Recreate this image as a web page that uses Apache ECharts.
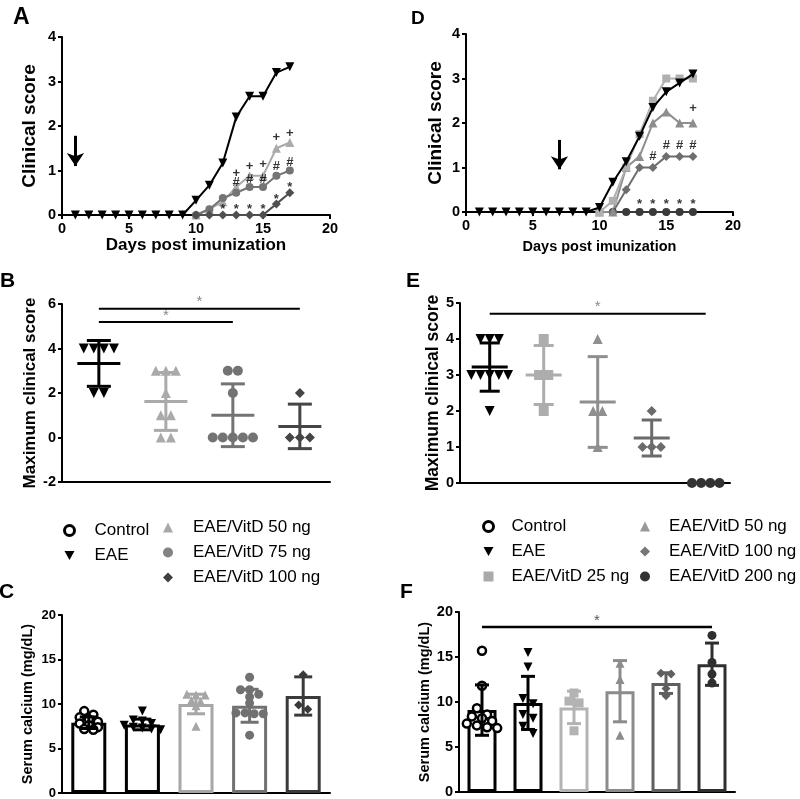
<!DOCTYPE html>
<html><head><meta charset="utf-8">
<script src="https://cdn.jsdelivr.net/npm/echarts@6/dist/echarts.min.js"></script>
<style>html,body{margin:0;padding:0;background:#fff}#c{width:800px;height:799px}</style>
</head><body><div id="c"></div><script>
// ---------------- DATA ----------------
const days = [1,2,3,4,5,6,7,8,9,10,11,12,13,14,15,16,17];
const daysLate = [10,11,12,13,14,15,16,17];
// Panel A clinical scores
const scoreA_EAE = [0,0,0,0,0,0,0,0,0,0.33,0.67,1.17,2.2,2.67,2.67,3.2,3.33];
const scoreA_50  = [0,0.13,0.3,0.63,0.88,0.88,1.5,1.63];
const scoreA_75  = [0,0.13,0.38,0.5,0.63,0.63,0.88,1.0];
const scoreA_100 = [0,0,0,0,0,0,0.25,0.5];
const marksA = [[13,0.94,'+'],[14,1.09,'+'],[15,1.14,'+'],[16,1.74,'+'],[17,1.84,'+'],
                [13,0.73,'#'],[14,0.8,'#'],[15,0.8,'#'],[16,1.09,'#'],[17,1.18,'#'],
                [12,0.12,'*'],[13,0.12,'*'],[14,0.12,'*'],[15,0.12,'*'],[16,0.36,'*'],[17,0.62,'*']];
const arrowA = [1, 1.78, 1.1];
// Panel D clinical scores
const scoreD_EAE = [0,0,0,0,0,0,0,0,0,0.1,0.67,1.13,1.7,2.35,2.7,2.9,3.1];
const scoreD_25  = [0,0.25,1.0,1.75,2.5,3.0,3.0,3.0];
const scoreD_50  = [0,0,1.0,1.25,2.0,2.25,2.0,2.0];
const scoreD_100 = [0,0,0.5,1.0,1.0,1.25,1.25,1.25];
const scoreD_200 = [0,0,0,0,0,0,0,0];
const marksD = [[17,2.32,'+'],[14,1.25,'#'],[15,1.5,'#'],[16,1.5,'#'],[17,1.5,'#'],
                [13,0.18,'*'],[14,0.18,'*'],[15,0.18,'*'],[16,0.18,'*'],[17,0.18,'*']];
const arrowD = [7, 1.62, 0.96];
// Panel B maximum clinical score
const groupsB = ['EAE','EAE/VitD 50 ng','EAE/VitD 75 ng','EAE/VitD 100 ng'];
const maxScoreB = [[4,4,4,4,2,2],[3,3,3,2,1,1,0,0],[3,3,2,0,0,0,0,0],[2,0,0,0]];
const meanB = [3.33,1.62,1.0,0.5];
const sdB = [1.03,1.30,1.41,1.0];
const sigB = [[1,4,5.79],[1,3,5.19]];
// Panel E maximum clinical score
const groupsE = ['EAE','EAE/VitD 25 ng','EAE/VitD 50 ng','EAE/VitD 100 ng','EAE/VitD 200 ng'];
const maxScoreE = [[4,4,4,3,3,3,3,3,2],[4,3,3,2],[4,2,2,1],[2,1,1,1],[0,0,0,0]];
const meanE = [3.22,3.0,2.25,1.25,0];
const sdE = [0.67,0.82,1.26,0.5,0];
const sigE = [[1,5,4.70]];
// Panel C serum calcium
const groupsC = ['Control','EAE','EAE/VitD 50 ng','EAE/VitD 75 ng','EAE/VitD 100 ng'];
const calciumC = [[9.2,8.8,8.5,8.3,8.0,7.8,7.6,7.4,7.2,7.1],[9.2,8.2,8.1,7.8,7.6,7.4,7.3,7.2,7.1],
                  [11.1,11.0,11.0,10.4,10.3,9.8,7.5],[13.0,11.6,11.6,11.1,10.8,10.1,9.0,9.0,8.9,8.9,6.5],[13.3,9.9,9.4]];
const meanC = [7.9,7.7,10.0,9.8,10.9];
const sdC = [0.65,0.6,1.1,1.85,2.15];
// Panel F serum calcium
const groupsF = ['Control','EAE','EAE/VitD 25 ng','EAE/VitD 50 ng','EAE/VitD 100 ng','EAE/VitD 200 ng'];
const calciumF = [[15.7,11.8,9.3,8.6,8.4,8.2,7.9,7.6,7.4,7.2,7.1],[15.5,13.9,10.4,9.8,8.6,8.2,7.3,6.5],
                  [11.0,10.1,9.9,6.8],[14.3,12.5,6.3],[13.2,13.1,11.5,10.7],[17.4,14.4,13.1,12.1]];
const meanF = [9.1,9.9,9.4,11.2,12.1,14.2];
const sdF = [2.8,2.95,1.8,3.4,1.15,2.35];
const sigF = [[0,5,18.34]];
// tick settings
const ticksScore = {min:0, max:4, interval:1};
const ticksDays = {min:0, max:20, interval:5};
const ticksB = {min:-2, max:6, interval:2};
const ticksE = {min:0, max:5, interval:1};
const ticksCa = {min:0, max:20, interval:5};

// ---------------- STYLES ----------------
const FONT = 'Liberation Sans';
const DOWN = {symbol:'triangle', rot:180};
const UP = {symbol:'triangle', rot:0};
const styleB = [{...DOWN,color:'#000'},{...UP,color:'#aaaaaa'},{symbol:'circle',rot:0,color:'#737373'},{symbol:'diamond',rot:0,color:'#454545'}];
const styleE = [{...DOWN,color:'#000'},{symbol:'rect',rot:0,color:'#adadad'},{...UP,color:'#8f8f8f'},{symbol:'diamond',rot:0,color:'#6b6b6b'},{symbol:'circle',rot:0,color:'#333'}];
const styleC = [{symbol:'circle',rot:0,color:'#000',hollow:true},{...DOWN,color:'#000'},{...UP,color:'#a6a6a6'},{symbol:'circle',rot:0,color:'#717171'},{symbol:'diamond',rot:0,color:'#3a3a3a'}];
const styleF = [{symbol:'circle',rot:0,color:'#000',hollow:true},{...DOWN,color:'#000'},{symbol:'rect',rot:0,color:'#b3b3b3'},{...UP,color:'#8c8c8c'},{symbol:'diamond',rot:0,color:'#5f5f5f'},{symbol:'circle',rot:0,color:'#2f2f2f'}];

// ---------------- HELPERS ----------------
function swarm(values, tol, step) {
  const idx = values.map((v,i)=>i).sort((a,b)=>values[b]-values[a]);
  const offs = new Array(values.length).fill(0);
  let i = 0;
  while (i < idx.length) {
    let j = i;
    while (j+1 < idx.length && values[idx[i]] - values[idx[j+1]] <= tol) j++;
    const k = j - i + 1;
    for (let t = 0; t < k; t++) offs[idx[i+t]] = (t - (k-1)/2) * step;
    i = j + 1;
  }
  return offs;
}
function axisBase(extra) {
  return Object.assign({
    type:'value', splitLine:{show:false},
    axisLine:{show:true, onZero:false, lineStyle:{color:'#000', width:2}},
    axisTick:{show:true, length:4, lineStyle:{color:'#000', width:2}},
    axisLabel:{color:'#000', fontWeight:'bold', fontSize:14.5, fontFamily:FONT, margin:6}
  }, extra);
}
function errSeries(name, xAxisIndex, yAxisIndex, xs, means, sds, colors, capW, meanW, lw) {
  return {
    type:'custom', name, xAxisIndex, yAxisIndex, silent:true, z:6,
    data: means.map((m,i)=>[xs[i], m, sds[i], i]),
    renderItem: function(params, api) {
      const x = api.value(0), m = api.value(1), sd = api.value(2), gi = api.value(3);
      const color = colors[gi];
      const ph = api.coord([x, m+sd]), pl = api.coord([x, m-sd]), pm = api.coord([x, m]);
      const st = {stroke:color, lineWidth:lw};
      const ch = [];
      if (sd > 0) {
        ch.push({type:'line', shape:{x1:ph[0],y1:ph[1],x2:pl[0],y2:pl[1]}, style:st});
        ch.push({type:'line', shape:{x1:ph[0]-capW/2,y1:ph[1],x2:ph[0]+capW/2,y2:ph[1]}, style:st});
        ch.push({type:'line', shape:{x1:pl[0]-capW/2,y1:pl[1],x2:pl[0]+capW/2,y2:pl[1]}, style:st});
      }
      if (meanW && sd > 0) ch.push({type:'line', shape:{x1:pm[0]-meanW/2,y1:pm[1],x2:pm[0]+meanW/2,y2:pm[1]}, style:st});
      return {type:'group', children:ch};
    }
  };
}
function sigSeries(xAxisIndex, yAxisIndex, sig, lw, starColor) {
  return {
    type:'custom', xAxisIndex, yAxisIndex, silent:true, z:7,
    data: sig,
    renderItem: function(params, api) {
      const p1 = api.coord([api.value(0), api.value(2)]);
      const p2 = api.coord([api.value(1), api.value(2)]);
      return {type:'group', children:[
        {type:'line', shape:{x1:p1[0],y1:p1[1],x2:p2[0],y2:p2[1]}, style:{stroke:'#000', lineWidth:lw}},
        {type:'text', x:(p1[0]+p2[0])/2, y:p1[1]+1, style:{text:'*', align:'center', verticalAlign:'bottom', fill:starColor, font:'15px '+FONT}}
      ]};
    }
  };
}
function pointSeries(groups, data, styles, xAxisIndex, yAxisIndex, xStart, tol, step, size) {
  return groups.map((g,i)=>{
    const offs = swarm(data[i], tol, step);
    const s = styles[i];
    return {
      type:'scatter', name:g, xAxisIndex, yAxisIndex, silent:true, z:5,
      symbol:s.symbol, symbolRotate:s.rot, symbolSize: s.hollow ? size-1 : size,
      itemStyle: s.hollow ? {color:'#fff', borderColor:s.color, borderWidth:2.5, opacity:1} : {color:s.color, opacity:1},
      data: data[i].map((v,k)=>[xStart+i+offs[k], v])
    };
  });
}
function lineSeries(name, xs, ys, color, symbol, rot, size, xAxisIndex, yAxisIndex, z) {
  return {type:'line', name, xAxisIndex, yAxisIndex, z, silent:true,
    data: xs.map((x,i)=>[x, ys[i]]), symbol, symbolRotate:rot, symbolSize:size, showSymbol:true,
    lineStyle:{color, width:2}, itemStyle:{color, opacity:1}, emphasis:{disabled:true}};
}
function arrowMark(a) {
  return {silent:true, symbol:['none','arrow'], symbolSize:[13,13], label:{show:false},
    lineStyle:{color:'#000', width:3, type:'solid'}, emphasis:{disabled:true}, animation:false,
    data:[[{coord:[a[0],a[1]]},{coord:[a[0],a[2]]}]]};
}
function markSeries(marks, xAxisIndex, yAxisIndex) {
  return {type:'scatter', xAxisIndex, yAxisIndex, silent:true, z:8, symbolSize:1,
    itemStyle:{color:'rgba(0,0,0,0)'},
    label:{show:true, position:'inside', color:'#000', fontSize:13, fontWeight:'bold', fontFamily:FONT},
    data: marks.map(m=>({value:[m[0],m[1]], label:{formatter:m[2]}}))};
}
function barSeries(groups, means, styles, xAxisIndex, yAxisIndex, w) {
  return {type:'bar', xAxisIndex, yAxisIndex, silent:true, z:2, barWidth:w,
    data: means.map((m,i)=>({value:m, itemStyle:{color:'#fff', borderColor:styles[i].color, borderWidth:3}}))};
}

// ---------------- OPTION ----------------
const yName = (name, size, gap) => ({name, nameLocation:'middle', nameGap:gap,
  nameTextStyle:{fontSize:size, fontWeight:'bold', color:'#000', fontFamily:FONT}});
const catIdx = n => Array.from({length:n},(_,i)=>String(i));

const grids = [
  {left:62, top:37, width:268, height:178},   // A
  {left:466, top:34, width:267, height:178},  // D
  {left:62, top:304, width:268, height:178},  // B
  {left:460, top:303, width:270, height:180}, // E
  {left:62, top:615, width:268, height:178},  // C
  {left:459, top:612, width:276, height:180}  // F
].map(g=>Object.assign(g,{containLabel:false, outerBoundsMode:'none'}));

const xAxes = [
  axisBase(Object.assign({gridIndex:0, name:'Days post imunization', nameLocation:'middle', nameGap:20,
    nameTextStyle:{fontSize:17, fontWeight:'bold', color:'#000', fontFamily:FONT}}, ticksDays)),
  axisBase(Object.assign({gridIndex:1, name:'Days post imunization', nameLocation:'middle', nameGap:27,
    nameTextStyle:{fontSize:14.5, fontWeight:'bold', color:'#000', fontFamily:FONT}}, ticksDays)),
  axisBase({gridIndex:2, min:0.45, max:4.45, axisTick:{show:false}, axisLabel:{show:false}}),
  axisBase({gridIndex:3, min:0.45, max:5.45, axisTick:{show:false}, axisLabel:{show:false}}),
  {type:'category', gridIndex:4, data:catIdx(5), axisLine:{lineStyle:{color:'#000', width:2}}, axisTick:{show:false}, axisLabel:{show:false}},
  {type:'value', gridIndex:4, min:-0.5, max:4.5, show:false},
  {type:'category', gridIndex:5, data:catIdx(6), axisLine:{lineStyle:{color:'#000', width:2}}, axisTick:{show:false}, axisLabel:{show:false}},
  {type:'value', gridIndex:5, min:-0.5, max:5.5, show:false}
];
const yAxes = [
  axisBase(Object.assign({gridIndex:0}, ticksScore, yName('Clinical score', 19, 23))),
  axisBase(Object.assign({gridIndex:1}, ticksScore, yName('Clinical score', 19, 21))),
  axisBase(Object.assign({gridIndex:2}, ticksB, yName('Maximum clinical score', 17, 20))),
  axisBase(Object.assign({gridIndex:3}, ticksE, yName('Maximum clinical score', 17.5, 17))),
  axisBase(Object.assign({gridIndex:4}, ticksCa, yName('Serum calcium (mg/dL)', 14.5, 27), {axisLabel:{color:'#000', fontWeight:'bold', fontSize:13, fontFamily:FONT, margin:6}})),
  axisBase(Object.assign({gridIndex:5}, ticksCa, yName('Serum calcium (mg/dL)', 14.5, 24)))
];

const series = [
  // A
  lineSeries('EAE/VitD 50 ng', daysLate, scoreA_50, '#aaaaaa', 'triangle', 0, 9, 0, 0, 3),
  lineSeries('EAE/VitD 75 ng', daysLate, scoreA_75, '#747474', 'circle', 0, 8, 0, 0, 3),
  lineSeries('EAE/VitD 100 ng', daysLate, scoreA_100, '#4f4f4f', 'diamond', 0, 9, 0, 0, 3),
  Object.assign(lineSeries('EAE', days, scoreA_EAE, '#000', 'triangle', 180, 9, 0, 0, 4), {markLine: arrowMark(arrowA)}),
  markSeries(marksA, 0, 0),
  // D
  lineSeries('EAE/VitD 200 ng', daysLate, scoreD_200, '#3a3a3a', 'circle', 0, 8, 1, 1, 3),
  lineSeries('EAE/VitD 100 ng', daysLate, scoreD_100, '#6e6e6e', 'diamond', 0, 9, 1, 1, 3),
  lineSeries('EAE/VitD 50 ng', daysLate, scoreD_50, '#8e8e8e', 'triangle', 0, 9, 1, 1, 3),
  lineSeries('EAE/VitD 25 ng', daysLate, scoreD_25, '#b0b0b0', 'rect', 0, 8, 1, 1, 3),
  Object.assign(lineSeries('EAE', days, scoreD_EAE, '#000', 'triangle', 180, 9, 1, 1, 4), {markLine: arrowMark(arrowD)}),
  markSeries(marksD, 1, 1),
  // B
  ...pointSeries(groupsB, maxScoreB, styleB, 2, 2, 1, 0.01, 0.15, 10),
  errSeries('errB', 2, 2, [1,2,3,4], meanB, sdB, styleB.map(s=>s.color), 24, 43, 3),
  sigSeries(2, 2, sigB, 2, '#8a8a8a'),
  // E
  ...pointSeries(groupsE, maxScoreE, styleE, 3, 3, 1, 0.01, 0.17, 10),
  errSeries('errE', 3, 3, [1,2,3,4,5], meanE, sdE, styleE.map(s=>s.color), 20, 36, 3),
  sigSeries(3, 3, sigE, 2, '#8a8a8a'),
  // C
  barSeries(groupsC, meanC, styleC, 4, 4, 35),
  ...pointSeries(groupsC, calciumC, styleC, 5, 4, 0, 0.55, 0.17, 9),
  errSeries('errC', 5, 4, [0,1,2,3,4], meanC, sdC, styleC.map(s=>s.color), 18, 0, 3),
  // F
  barSeries(groupsF, meanF, styleF, 6, 5, 29),
  ...pointSeries(groupsF, calciumF, styleF, 7, 5, 0, 0.8, 0.22, 9),
  errSeries('errF', 7, 5, [0,1,2,3,4,5], meanF, sdF, styleF.map(s=>s.color), 14, 0, 3),
  sigSeries(7, 5, sigF, 2.5, '#555')
];

const downIcon = 'path://M0,0L10,0L5,9Z';
const legTxt = pad => ({fontSize:17, color:'#000', fontFamily:FONT, lineHeight:17, padding:[0,0,0,pad]});
const legBase = {orient:'vertical', itemWidth:10, itemHeight:10, itemGap:8, padding:0, selectedMode:false};
const legend = [
  Object.assign({}, legBase, {left:63, top:522, textStyle:legTxt(15), data:[
    {name:'Control', icon:'circle', itemStyle:{color:'#fff', borderColor:'#000', borderWidth:3}},
    {name:'EAE', icon:downIcon, itemStyle:{color:'#000', borderWidth:0}}]}),
  Object.assign({}, legBase, {left:163, top:519, textStyle:legTxt(15), data:[
    {name:'EAE/VitD 50 ng', icon:'triangle', itemStyle:{color:'#a8a8a8', borderWidth:0}},
    {name:'EAE/VitD 75 ng', icon:'circle', itemStyle:{color:'#838383', borderWidth:0}},
    {name:'EAE/VitD 100 ng', icon:'diamond', itemStyle:{color:'#404040', borderWidth:0}}]}),
  Object.assign({}, legBase, {left:482, top:518, textStyle:legTxt(13), data:[
    {name:'Control', icon:'circle', itemStyle:{color:'#fff', borderColor:'#000', borderWidth:3}},
    {name:'EAE', icon:downIcon, itemStyle:{color:'#000', borderWidth:0}},
    {name:'EAE/VitD 25 ng', icon:'rect', itemStyle:{color:'#aaaaaa', borderWidth:0}}]}),
  Object.assign({}, legBase, {left:640, top:518, textStyle:legTxt(14), data:[
    {name:'EAE/VitD 50 ng', icon:'triangle', itemStyle:{color:'#999', borderWidth:0}},
    {name:'EAE/VitD 100 ng', icon:'diamond', itemStyle:{color:'#777', borderWidth:0}},
    {name:'EAE/VitD 200 ng', icon:'circle', itemStyle:{color:'#333', borderWidth:0}}]})
];

const letter = (t, left, top, size) => ({text:t, left, top, padding:0,
  textStyle:{fontSize:size, fontWeight:'bold', color:'#000', fontFamily:FONT}});
const title = [letter('A',13,6,23), letter('D',411,9,19), letter('B',0,271,21), letter('E',406,271,21),
               letter('C',-1,582,21), letter('F',400,582,21)];

const chart = echarts.init(document.getElementById('c'), null, {renderer:'canvas'});
chart.setOption({animation:false, backgroundColor:'#fff', title, legend, grid:grids, xAxis:xAxes, yAxis:yAxes, series});
</script></body></html>
